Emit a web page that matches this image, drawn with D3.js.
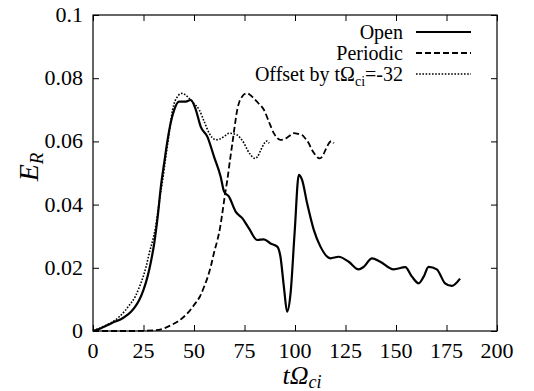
<!DOCTYPE html>
<html><head><meta charset="utf-8">
<script src="https://cdn.jsdelivr.net/npm/d3@7"></script>
</head>
<body style="margin:0">
<svg id="s" width="534" height="391"></svg>
<script>
const xTicks = [0,25,50,75,100,125,150,175,200];
const yTicks = [0,0.02,0.04,0.06,0.08,0.1];
const yTickLabels = ["0","0.02","0.04","0.06","0.08","0.1"];

const openT = [0,2,4,6,8.9,11,13.8,16,18.8,21,22.9,25,27,28.7,30.3,32,33.6,35.2,36.9,38.5,40.2,42.6,45.9,48.4,50.9,53.3,56.6,59.9,63.2,64.9,67.3,70.6,73.9,77.2,81.3,84.6,87.9,91.2,92.8,94.5,96.1,97.8,99.8,101.9,103.5,106,109.3,112.6,117.5,121.6,126.6,131.5,134,138.1,142.2,148.8,154.6,157.9,161.2,163.7,166.1,170.2,174.3,177.6,181.7];
const openE = [0,0.0004,0.0009,0.0015,0.0024,0.003,0.0037,0.0046,0.0061,0.0078,0.0098,0.013,0.0172,0.022,0.0277,0.036,0.0457,0.053,0.0604,0.066,0.070,0.0726,0.0726,0.0731,0.070,0.0647,0.0615,0.0552,0.0488,0.0441,0.0425,0.0378,0.0357,0.0325,0.0288,0.029,0.0277,0.0267,0.0235,0.014,0.0061,0.0119,0.031,0.0494,0.0478,0.0404,0.032,0.0267,0.023,0.0235,0.0219,0.0195,0.0203,0.023,0.0219,0.0195,0.0202,0.0172,0.0151,0.0172,0.0203,0.0195,0.0151,0.0143,0.0166];

const periodicT = [0,10,20,30,35,38.5,42,45,48,50,53,55,57,58.3,60,61.6,63,64,65.3,66.5,67.8,69,70.2,71.4,72.6,73.9,75,76.4,78,79.6,82,84.6,87.1,89.5,91,92.8,95,97,99.4,101.5,103.5,105,106.8,108.5,110.1,112.2,113.5,115.1,117,118,119.2];
const periodicE = [0,0,0,0.0002,0.0008,0.0018,0.003,0.0045,0.0065,0.0082,0.011,0.014,0.0175,0.0204,0.025,0.0288,0.033,0.0372,0.043,0.0478,0.054,0.0594,0.065,0.070,0.0728,0.0742,0.0750,0.0752,0.0746,0.0736,0.072,0.070,0.0662,0.0626,0.0612,0.0605,0.0608,0.0616,0.0626,0.0624,0.062,0.061,0.0594,0.0572,0.0557,0.0546,0.0552,0.0573,0.0596,0.0601,0.0594];

const offsetT = [0,3,6.5,10,13,16,18,21,23,25,26.3,28,29.6,31,32,33.3,34.5,35.8,37,38.2,39.4,40.6,41.9,43,44.4,46,47.6,50,52.6,55.1,57.5,59,60.8,63,65,67.4,69.5,71.5,73,74.8,76.5,78.1,80.2,81.5,83.1,85,86,87.2];
const offsetE = [0.0002,0.0008,0.0018,0.003,0.0045,0.0065,0.0082,0.011,0.014,0.0175,0.0204,0.025,0.0288,0.033,0.0372,0.043,0.0478,0.054,0.0594,0.065,0.070,0.0728,0.0742,0.0750,0.0752,0.0746,0.0736,0.072,0.070,0.0662,0.0626,0.0612,0.0605,0.0608,0.0616,0.0626,0.0624,0.062,0.061,0.0594,0.0572,0.0557,0.0546,0.0552,0.0573,0.0596,0.0601,0.0594];

const seriesNames = ["Open","Periodic","Offset by tΩ"];

const FAM = "'Liberation Serif'";
const L = 93, R = 497, T = 15, B = 331;
const svg = d3.select("#s");
const x = d3.scaleLinear().domain([0,200]).range([L,R]);
const y = d3.scaleLinear().domain([0,0.1]).range([B,T]);

function serif(sel, size){
  return sel.style("font-family", FAM).style("font-size", size + "px");
}

const tickLen = 6;
// tick marks (inward, mirrored on all four sides)
const axB = d3.axisBottom(x).tickValues(xTicks).tickSize(-tickLen).tickFormat("");
const axT = d3.axisTop(x).tickValues(xTicks).tickSize(-tickLen).tickFormat("");
const axL = d3.axisLeft(y).tickValues(yTicks).tickSize(-tickLen).tickFormat("");
const axR = d3.axisRight(y).tickValues(yTicks).tickSize(-tickLen).tickFormat("");
function cleanAxis(g){
  g.select(".domain").remove();
  g.selectAll("text").remove();
  g.selectAll("line").attr("stroke","#000").attr("stroke-width",1);
}
svg.append("g").attr("transform",`translate(0,${B})`).call(axB).call(cleanAxis);
svg.append("g").attr("transform",`translate(0,${T})`).call(axT).call(cleanAxis);
svg.append("g").attr("transform",`translate(${L},0)`).call(axL).call(cleanAxis);
svg.append("g").attr("transform",`translate(${R},0)`).call(axR).call(cleanAxis);

// tick labels as plain texts from the scales
svg.selectAll("text.xl").data(xTicks).join("text").attr("class","xl")
  .attr("x",d=>x(d)).attr("y",B+27).attr("text-anchor","middle")
  .style("font-family",FAM).style("font-size","22px").text(d=>d);
svg.selectAll("text.yl").data(yTicks).join("text").attr("class","yl")
  .attr("x",L-10).attr("y",d=>y(d)+7).attr("text-anchor","end")
  .style("font-family",FAM).style("font-size","22px").text((d,i)=>yTickLabels[i]);

svg.append("rect").attr("x",L).attr("y",T).attr("width",R-L).attr("height",B-T)
  .attr("fill","none").attr("stroke","#000").attr("stroke-width",1.2);

const lineGen = d3.line().x(d=>x(d[0])).y(d=>y(d[1])).curve(d3.curveMonotoneX);
const zip = (a,b)=>a.map((v,i)=>[v,b[i]]);

const lineStyles = [
  {w:2.2, dash:null},
  {w:1.8, dash:"6,3"},
  {w:1.6, dash:"1.6,1.6"}
];
const seriesData = [zip(openT,openE), zip(periodicT,periodicE), zip(offsetT,offsetE)];

seriesData.forEach((d,i)=>{
  svg.append("path").datum(d).attr("d",lineGen).attr("fill","none")
    .attr("stroke","#000").attr("stroke-width",lineStyles[i].w)
    .attr("stroke-dasharray",lineStyles[i].dash);
});

// legend
const legX = 403, legY0 = 32, legDy = 21;
seriesNames.forEach((name,i)=>{
  const yy = legY0 + i*legDy;
  const t = svg.append("text").attr("x",legX).attr("y",yy+7).attr("text-anchor","end")
    .style("font-family",FAM).style("font-size","20px");
  if(i===2){
    t.append("tspan").text(name);
    t.append("tspan").style("font-size","14px").attr("dy","5").text("ci");
    t.append("tspan").attr("dy","-5").text("=-32");
  } else t.text(name);
  svg.append("line").attr("x1",416).attr("x2",471).attr("y1",yy).attr("y2",yy)
    .attr("stroke","#000").attr("stroke-width",lineStyles[i].w)
    .attr("stroke-dasharray",lineStyles[i].dash);
});

// axis titles
const yt = svg.append("text").attr("transform","translate(38,167) rotate(-90)")
  .attr("text-anchor","middle").style("font-family",FAM).style("font-size","28px").style("font-style","italic");
yt.append("tspan").text("E");
yt.append("tspan").style("font-size","19px").attr("dy",5).text("R");

const xt = svg.append("text").attr("x",302).attr("y",384).attr("text-anchor","middle")
  .style("font-family",FAM).style("font-size","26px").style("font-style","italic");
xt.append("tspan").text("tΩ");
xt.append("tspan").style("font-size","18px").attr("dy",4).text("ci");
</script>
</body></html>
